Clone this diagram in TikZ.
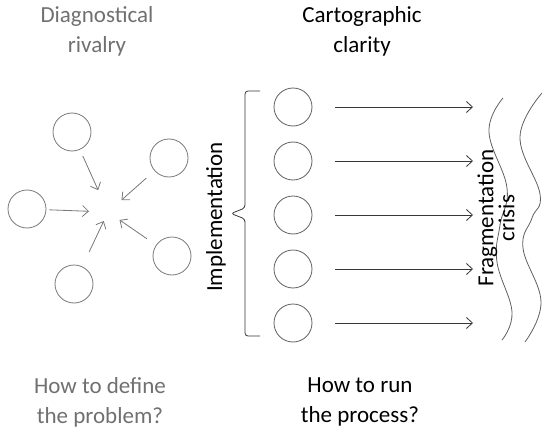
\documentclass[tikz,border=0pt]{standalone}
\usepackage{fontspec}
\setmainfont{Carlito}
\usetikzlibrary{arrows.meta}
\definecolor{dimtext}{RGB}{112,112,112}
\definecolor{dimline}{RGB}{120,120,120}
\definecolor{ringline}{RGB}{95,95,95}
\definecolor{darkline}{RGB}{55,55,55}

\begin{document}
\begin{tikzpicture}[
    x=1pt, y=-1pt,
    headtext/.style={font=\fontsize{23}{30}\selectfont, align=center, text=black},
    dimhead/.style={headtext, text=dimtext},
    ring/.style={circle, draw=ringline, line width=0.8pt, minimum size=38pt, inner sep=0pt},
    dimring/.style={ring, draw=dimline},
    arrow/.style={line width=0.8pt, draw=darkline, -{Straight Barb[length=6pt,width=11pt]}},
    dimarrow/.style={arrow, draw=dimline}
]
\useasboundingbox (0,0) rectangle (542,431);

% Headings
\node[dimhead] (rivalry) at (97,31) {Diagnostical\\rivalry};
\node[headtext] (clarity) at (362,31) {Cartographic\\clarity};
\node[dimhead] (define) at (100,402) {How to define\\the problem?};
\node[headtext] (run) at (360,402) {How to run\\the process?};

% Diagnostical rivalry
\coordinate (hub) at (108,212);
\node[dimring] (rivA) at (72,132) {};
\node[dimring] (rivB) at (27,209) {};
\node[dimring] (rivC) at (74,284) {};
\node[dimring] (rivD) at (169,158) {};
\node[dimring] (rivE) at (172,256) {};
\foreach \c/\s/\e in {rivA/7/24, rivB/3/19, rivC/16/10, rivD/11/18, rivE/11/14}
    \draw[dimarrow, shorten <=\s pt, shorten >=\e pt] (\c) -- (hub);

% Cartographic clarity
\coordinate (front) at (473,0);
\foreach \i in {1,...,5}
    \node[ring] (stage\i) at (293,{107+54*(\i-1)}) {};
\foreach \i in {1,...,5}
    \draw[arrow, shorten <=23pt] (stage\i) -- (stage\i -| front);

% Implementation brace
\draw[darkline, line width=0.8pt, rounded corners=3pt]
    (260,91) -- (245,91) -- (245,208) -- (231,213.5) -- (245,219) -- (245,336) -- (260,336);
\node[headtext, rotate=90] (impl) at (216,217) {Implementation};

% Fragmentation crisis
\draw[ringline, line width=0.8pt] plot[smooth, tension=0.7] coordinates
    {(503,98) (489,132) (507,188) (500,225) (497,262) (512,312) (502,340)};
\draw[ringline, line width=0.8pt] plot[smooth, tension=0.7] coordinates
    {(542,93) (520,137) (540,194) (532,218) (523,248) (541,302) (525,342)};
\node[font=\fontsize{23}{17}\selectfont, align=center, rotate=90] (crisis) at (496,218) {Fragmentation\\crisis};

\end{tikzpicture}
\end{document}
